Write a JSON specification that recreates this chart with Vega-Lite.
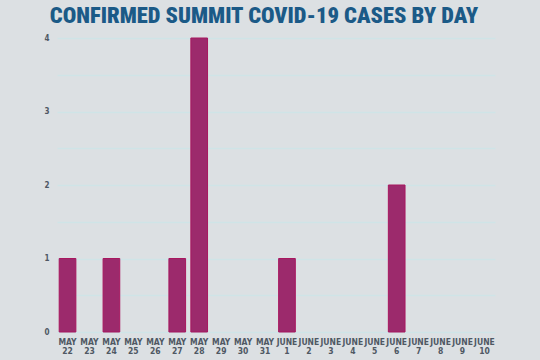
{
  "$schema": "https://vega.github.io/schema/vega-lite/v6.json",
  "width": 438,
  "height": 294,
  "autosize": {"type": "none"},
  "padding": {"left": 57, "top": 38, "right": 45, "bottom": 28},
  "background": "#dce0e3",
  "title": {
    "text": "CONFIRMED SUMMIT COVID-19 CASES BY DAY",
    "font": "Roboto Condensed, DejaVu Sans Condensed, Roboto",
    "fontWeight": 900,
    "fontSize": 22.5,
    "color": "#1b5a87",
    "anchor": "middle",
    "dx": -12,
    "offset": 7
  },
  "data": {
    "values": [
      {"day": "MAY 22", "cases": 1},
      {"day": "MAY 23", "cases": 0},
      {"day": "MAY 24", "cases": 1},
      {"day": "MAY 25", "cases": 0},
      {"day": "MAY 26", "cases": 0},
      {"day": "MAY 27", "cases": 1},
      {"day": "MAY 28", "cases": 4},
      {"day": "MAY 29", "cases": 0},
      {"day": "MAY 30", "cases": 0},
      {"day": "MAY 31", "cases": 0},
      {"day": "JUNE 1", "cases": 1},
      {"day": "JUNE 2", "cases": 0},
      {"day": "JUNE 3", "cases": 0},
      {"day": "JUNE 4", "cases": 0},
      {"day": "JUNE 5", "cases": 0},
      {"day": "JUNE 6", "cases": 2},
      {"day": "JUNE 7", "cases": 0},
      {"day": "JUNE 8", "cases": 0},
      {"day": "JUNE 9", "cases": 0},
      {"day": "JUNE 10", "cases": 0}
    ]
  },
  "mark": {"type": "bar", "fill": "#9c2a6c", "stroke": "#a8175f", "strokeWidth": 1},
  "encoding": {
    "x": {
      "field": "day",
      "type": "nominal",
      "sort": null,
      "scale": {"paddingInner": 0.24, "paddingOuter": 0.1},
      "axis": {
        "title": null,
        "labelAngle": 0,
        "labelExpr": "split(datum.label, ' ')",
        "labelFont": "DejaVu Sans Condensed, Roboto",
        "labelFontWeight": "bold",
        "labelFontSize": 8.5,
        "labelColor": "#4f5863",
        "labelLineHeight": 9.5,
        "labelPadding": 5,
        "ticks": false,
        "domain": false,
        "grid": false
      }
    },
    "y": {
      "field": "cases",
      "type": "quantitative",
      "scale": {"domain": [0, 4], "nice": false},
      "axis": {
        "title": null,
        "values": [0, 0.5, 1, 1.5, 2, 2.5, 3, 3.5, 4],
        "labelExpr": "datum.value % 1 == 0 ? format(datum.value, 'd') : ''",
        "labelFont": "DejaVu Sans Condensed, Roboto",
        "labelFontWeight": "bold",
        "labelFontSize": 8,
        "labelColor": "#4f5863",
        "labelPadding": 8,
        "ticks": false,
        "domain": false,
        "grid": true,
        "gridColor": "#cfe4e7",
        "gridWidth": 1.5
      }
    },
    "strokeOpacity": {
      "condition": {"test": "datum.cases > 0", "value": 1},
      "value": 0
    }
  },
  "config": {"view": {"stroke": null}}
}
